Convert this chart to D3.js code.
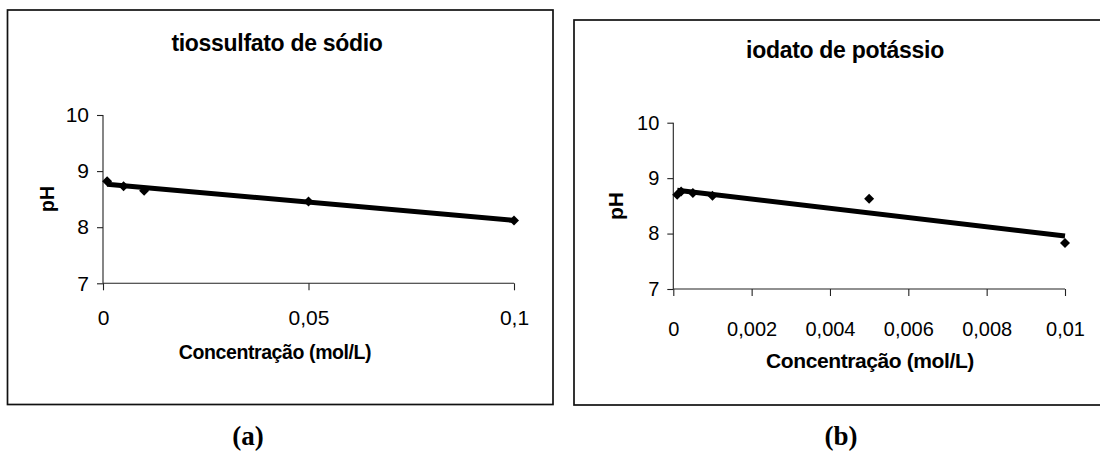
<!DOCTYPE html>
<html>
<head>
<meta charset="utf-8">
<script src="https://cdn.jsdelivr.net/npm/d3@7"></script>
<style>
	body { margin: 0; background: #fff; }
	svg text { font-family: "Liberation Sans", Arial, sans-serif; fill: #000; }
	svg text.caption { font-family: "Liberation Serif", "Times New Roman", serif; font-weight: bold; }
</style>
</head>
<body>
<svg id="chart" width="1100" height="451" font-family="'Liberation Sans', Arial, sans-serif"></svg>
<script>
// (a) tiossulfato de sodio
var concA = [0.001, 0.005, 0.01, 0.05, 0.1];
var phA = [8.82, 8.73, 8.65, 8.46, 8.12];
var xTicksA = [0, 0.05, 0.1];

// (b) iodato de potassio
var concB = [0.0001, 0.0002, 0.0005, 0.001, 0.005, 0.01];
var phB = [8.70, 8.76, 8.73, 8.68, 8.63, 7.83];
var xTicksB = [0, 0.002, 0.004, 0.006, 0.008, 0.01];

var yTicks = [7, 8, 9, 10];

var br = d3.formatLocale({decimal: ",", thousands: ".", grouping: [3], currency: ["R$", ""]});
var fmt = br.format("~g");

var svg = d3.select("#chart");

// least squares, same as the excel trendline
function linreg(xs, ys) {
	var mx = d3.mean(xs), my = d3.mean(ys);
	var sxy = 0, sxx = 0;
	for (var i = 0; i < xs.length; i++) {
		sxy += (xs[i] - mx) * (ys[i] - my);
		sxx += (xs[i] - mx) * (xs[i] - mx);
	}
	var m = sxy / sxx;
	return {m: m, b: my - m * mx};
}

function draw_panel(p) {
	var g = svg.append("g");

	// frame
	g.append("rect")
		.attr("x", p.box[0]).attr("y", p.box[1])
		.attr("width", p.box[2] - p.box[0]).attr("height", p.box[3] - p.box[1])
		.attr("fill", "none").attr("stroke", "#111").attr("stroke-width", 1.7);

	var x = d3.scaleLinear().domain([0, p.xTicks[p.xTicks.length - 1]]).range(p.xr);
	var y = d3.scaleLinear().domain([7, 10]).range(p.yr);

	var yAxis = g.append("g")
		.attr("transform", "translate(" + p.xr[0] + ",0)")
		.call(d3.axisLeft(y).tickValues(yTicks).tickSize(6).tickPadding(8).tickFormat(fmt));
	var xAxis = g.append("g")
		.attr("transform", "translate(0," + p.yr[0] + ")")
		.call(d3.axisBottom(x).tickValues(p.xTicks).tickSize(7).tickPadding(p.xPad).tickFormat(fmt));

	[yAxis, xAxis].forEach(function(a) {
		a.attr("font-family", null);
		a.select(".domain").attr("stroke", "#222").attr("stroke-width", 1.1);
		a.selectAll(".tick line").attr("stroke", "#222").attr("stroke-width", 1.1);
		a.selectAll(".tick text").attr("font-size", p.tickFont).attr("fill", "#000");
	});
	// excel draws the axis lines without the end caps
	yAxis.select(".domain").attr("d", "M0," + p.yr[0] + "V" + p.yr[1]);
	xAxis.select(".domain").attr("d", "M" + p.xr[0] + ",0H" + p.xr[1]);

	var pts = p.conc.map(function(c, i) { return [c, p.ph[i]]; });

	g.append("g").selectAll("path")
		.data(pts)
		.enter().append("path")
		.attr("d", d3.symbol(d3.symbolSquare, 50))
		.attr("transform", function(d) {
			return "translate(" + x(d[0]) + "," + y(d[1]) + ") rotate(45)";
		})
		.attr("fill", "#000");

	var fit = linreg(p.conc, p.ph);
	var x0 = d3.min(p.conc), x1 = d3.max(p.conc);
	g.append("line")
		.attr("x1", x(x0)).attr("y1", y(fit.b + fit.m * x0))
		.attr("x2", x(x1)).attr("y2", y(fit.b + fit.m * x1))
		.attr("stroke", "#000").attr("stroke-width", 5);

	g.append("text")
		.attr("x", p.title[0]).attr("y", p.title[1])
		.attr("text-anchor", "middle").attr("font-weight", "bold")
		.attr("font-size", 23).attr("letter-spacing", -0.3)
		.text(p.titleText);

	g.append("text")
		.attr("x", p.xlab[0]).attr("y", p.xlab[1])
		.attr("text-anchor", "middle").attr("font-weight", "bold")
		.attr("font-size", p.labFont).attr("letter-spacing", -0.4)
		.text("Concentração (mol/L)");

	g.append("text")
		.attr("transform", "translate(" + p.ylab[0] + "," + p.ylab[1] + ") rotate(-90)")
		.attr("text-anchor", "middle").attr("font-weight", "bold")
		.attr("font-size", p.labFont)
		.text("pH");

	g.append("text")
		.attr("class", "caption")
		.attr("x", p.cap[0]).attr("y", p.cap[1])
		.attr("text-anchor", "middle")
		.attr("font-size", 27)
		.text(p.capText);
}

draw_panel({
	box: [7.5, 10, 553, 404.5],
	xr: [103, 514], yr: [283.3, 115],
	conc: concA, ph: phA, xTicks: xTicksA, xPad: 20,
	tickFont: 21, labFont: 19.5,
	title: [277, 51], titleText: "tiossulfato de sódio",
	xlab: [275, 359], ylab: [54, 199],
	cap: [248, 445], capText: "(a)"
});

draw_panel({
	box: [574, 20, 1103, 405],
	xr: [673.3, 1065], yr: [289, 122.7],
	conc: concB, ph: phB, xTicks: xTicksB, xPad: 26,
	tickFont: 20, labFont: 21,
	title: [845, 58], titleText: "iodato de potássio",
	xlab: [870, 368], ylab: [623, 206],
	cap: [841, 445], capText: "(b)"
});
</script>
</body>
</html>
